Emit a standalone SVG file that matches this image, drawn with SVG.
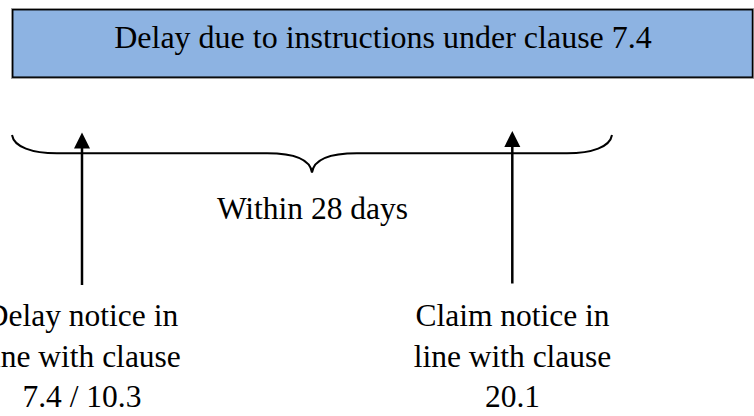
<svg xmlns="http://www.w3.org/2000/svg" width="754" height="416" viewBox="0 0 754 416">
  <defs>
    <style>
      .txt { font-family: "Liberation Serif", "Times New Roman", serif; fill: #000; text-anchor: middle; }
      .title { font-size: 32px; }
      .lbl { font-size: 31.5px; }
      .brace { fill: none; stroke: #000; stroke-width: 2; }
      .conn { fill: none; stroke: #000; stroke-width: 2.5; }
    </style>
    <marker id="arrowhead" markerWidth="16" markerHeight="16" viewBox="0 0 16 16" refX="8" refY="1" orient="auto-start-reverse" markerUnits="userSpaceOnUse">
      <path d="M0,16 L8,0 L16,16 Z" fill="#000"/>
    </marker>
  </defs>
  <rect width="754" height="416" fill="#fff"/>

  <!-- Event box -->
  <g id="delay-event">
    <rect x="11.5" y="8.5" width="742" height="70" fill="none" stroke="#a0a0a0" stroke-width="1"/>
    <rect x="12.7" y="9.7" width="739.8" height="67.5" fill="#8DB3E2" stroke="#000" stroke-width="1.5"/>
    <text class="txt title" x="383" y="48">Delay due to instructions under clause 7.4</text>
  </g>

  <!-- 28-day period brace -->
  <g id="period">
    <path class="brace" d="M12,135 C14,147 32,153.3 57,153.3 L267,153.3 C295,153.3 310,159 312,172.5 C314,159 329,153.3 357,153.3 L567,153.3 C592,153.3 610,147 612,135"/>
    <text class="txt lbl" x="312.5" y="218.5">Within 28 days</text>
  </g>

  <!-- Notices -->
  <g id="delay-notice">
    <text class="txt lbl" x="82" y="326">Delay notice in</text>
    <text class="txt lbl" x="82" y="366.5">line with clause</text>
    <text class="txt lbl" x="82" y="407">7.4 / 10.3</text>
  </g>
  <g id="claim-notice">
    <text class="txt lbl" x="512.5" y="326">Claim notice in</text>
    <text class="txt lbl" x="512.5" y="366.5">line with clause</text>
    <text class="txt lbl" x="512.5" y="407">20.1</text>
  </g>

  <!-- Connectors -->
  <g id="connectors">
    <line class="conn" x1="82" y1="285" x2="82" y2="148" />
    <path d="M74,148.5 L82,132.5 L90,148.5 Z" fill="#000"/>
    <line class="conn" x1="512.3" y1="283.5" x2="512.3" y2="146" />
    <path d="M504.3,147 L512.3,131 L520.3,147 Z" fill="#000"/>
  </g>
</svg>
